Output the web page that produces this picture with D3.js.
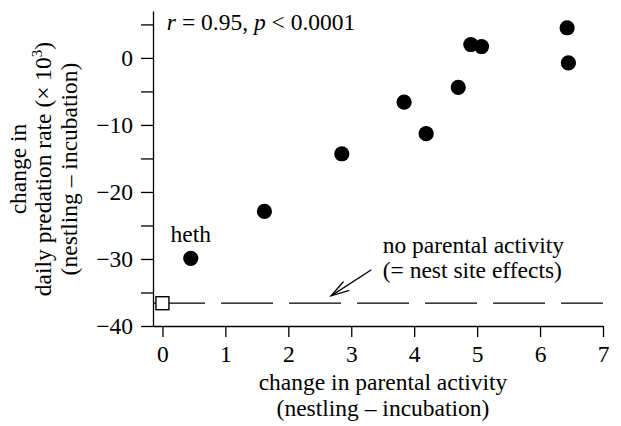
<!DOCTYPE html>
<html>
<head>
<meta charset="utf-8">
<script src="https://cdn.jsdelivr.net/npm/d3@7"></script>
<style>
  html, body { margin: 0; padding: 0; background: #fff; }
  svg { display: block; font-family: "Liberation Serif", "Times New Roman", serif; }
</style>
</head>
<body>
<div id="chart"></div>
<script>
// 各物种：育雏期与孵化期之间亲鸟活动变化 vs 日捕食率变化
const activityChange = [0.45, 1.62, 2.85, 3.84, 4.19, 4.70, 4.90, 5.07, 6.43, 6.45];
const predationChange = [-29.9, -22.9, -14.3, -6.6, -11.3, -4.4, 2.0, 1.7, 4.5, -0.75];
const pointLabels = ['heth', '', '', '', '', '', '', '', '', ''];
// 无亲鸟活动时的基线（巢址效应）
const baselineActivity = [0];
const baselineRate = [-36.6];
const xTicks = [0, 1, 2, 3, 4, 5, 6, 7];
const yTicks = [-40, -35, -30, -25, -20, -15, -10, -5, 0, 5];

const W = 621, H = 426;
const FS = 23.5;
const SERIF = '"Liberation Serif", "Times New Roman", serif';
const svg = d3.select('#chart').append('svg').attr('width', W).attr('height', H).attr('viewBox', `0 0 ${W} ${H}`);

const x = d3.scaleLinear().domain([-0.15, 7]).range([153, 603]);
const y = d3.scaleLinear().domain([-40, 7]).range([326, 11]);

// 坐标轴
const yAxis = d3.axisLeft(y).tickValues(yTicks).tickSize(12).tickSizeOuter(0).tickPadding(8)
  .tickFormat((d) => (d % 10 === 0 ? d3.format('d')(d) : ''));
const xAxis = d3.axisBottom(x).tickValues(xTicks).tickSize(11).tickSizeOuter(0).tickPadding(8);

const gy = svg.append('g').attr('transform', `translate(${x(-0.15)},0)`).call(yAxis);
const gx = svg.append('g').attr('transform', `translate(0,${y(-40)})`).call(xAxis);
[gx, gy].forEach((g) => {
  g.attr('font-family', SERIF).attr('font-size', FS);
  g.selectAll('path, line').attr('stroke', '#000').attr('stroke-width', 1.3);
  g.selectAll('text').attr('fill', '#000').style('font-family', SERIF);
});

// 基线虚线
svg.append('line')
  .attr('x1', x(-0.15)).attr('x2', x(7))
  .attr('y1', y(baselineRate[0])).attr('y2', y(baselineRate[0]))
  .attr('stroke', '#000').attr('stroke-width', 1.3).attr('stroke-dasharray', '52,16');

// 空心方块
const sq = 13;
svg.selectAll('rect.base').data(baselineActivity).enter().append('rect')
  .attr('class', 'base')
  .attr('x', (d) => x(d) - sq / 2).attr('y', (d, i) => y(baselineRate[i]) - sq / 2)
  .attr('width', sq).attr('height', sq)
  .attr('fill', '#fff').attr('stroke', '#000').attr('stroke-width', 1.4);

// 散点
svg.selectAll('circle.dot').data(activityChange).enter().append('circle')
  .attr('class', 'dot')
  .attr('cx', (d) => x(d)).attr('cy', (d, i) => y(predationChange[i]))
  .attr('r', 7.6).attr('fill', '#000');

svg.selectAll('text.pl').data(activityChange).enter().append('text')
  .attr('class', 'pl')
  .attr('x', (d) => x(d)).attr('y', (d, i) => y(predationChange[i]) - 16)
  .attr('text-anchor', 'middle').attr('font-size', FS)
  .text((d, i) => pointLabels[i]);

// 相关系数
const stat = svg.append('text').attr('x', x(0.07)).attr('y', y(4.2)).attr('font-size', FS);
stat.append('tspan').attr('font-style', 'italic').text('r');
stat.append('tspan').text(' = 0.95, ');
stat.append('tspan').attr('font-style', 'italic').text('p');
stat.append('tspan').text(' < 0.0001');

// 注释 + 箭头
svg.append('text').attr('x', x(3.5)).attr('y', y(-29.05)).attr('font-size', FS).text('no parental activity');
svg.append('text').attr('x', x(3.5)).attr('y', y(-32.9)).attr('font-size', FS).text('(= nest site effects)');

const tip = [x(2.68), y(-35.5)], tail = [x(3.32), y(-31.6)];
svg.append('line').attr('x1', tail[0]).attr('y1', tail[1]).attr('x2', tip[0]).attr('y2', tip[1])
  .attr('stroke', '#000').attr('stroke-width', 1.3);
const ang = Math.atan2(tail[1] - tip[1], tail[0] - tip[0]);
const hl = 19, spread = 0.28;
svg.append('path')
  .attr('d', `M${tip[0] + hl * Math.cos(ang - spread)},${tip[1] + hl * Math.sin(ang - spread)}L${tip[0]},${tip[1]}L${tip[0] + hl * Math.cos(ang + spread)},${tip[1] + hl * Math.sin(ang + spread)}`)
  .attr('fill', 'none').attr('stroke', '#000').attr('stroke-width', 1.3);

// 轴标题
const xl = svg.append('text').attr('text-anchor', 'middle').attr('font-size', FS);
xl.append('tspan').attr('x', 383).attr('y', 390).text('change in parental activity');
xl.append('tspan').attr('x', 383).attr('y', 416).text('(nestling – incubation)');

const yl = svg.append('text').attr('text-anchor', 'middle').attr('font-size', FS)
  .attr('transform', `translate(0,169) rotate(-90)`);
yl.append('tspan').attr('x', 0).attr('y', 26).text('change in');
yl.append('tspan').attr('x', 0).attr('y', 51).text('daily predation rate (× 10');
yl.append('tspan').attr('font-size', 15).attr('dy', -9).text('3');
yl.append('tspan').attr('dy', 9).text(')');
yl.append('tspan').attr('x', 0).attr('y', 77).text('(nestling – incubation)');
</script>
</body>
</html>
